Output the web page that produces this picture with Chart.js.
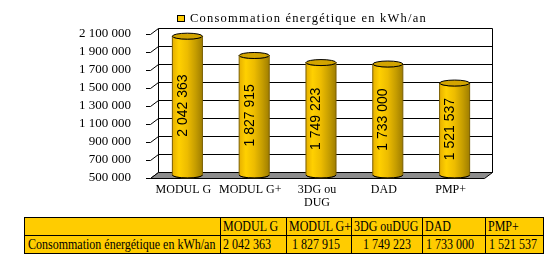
<!DOCTYPE html>
<html><head><meta charset="utf-8">
<script src="https://cdn.jsdelivr.net/npm/chart.js@4"></script>
<style>
html,body{margin:0;padding:0;background:#fff;width:550px;height:255px;overflow:hidden}
#wrap{position:absolute;left:0;top:0;width:550px;height:215px}
#tbl{position:absolute;left:24px;top:217px;width:519px;border-collapse:collapse;table-layout:fixed;font-family:"Liberation Serif","Times New Roman",serif;font-size:15px;background:#FFCC00;color:#000}
#tbl td{border:1px solid #000;padding:0 0 0 2px;height:17px;white-space:nowrap;overflow:visible;line-height:17px;vertical-align:middle}
#tbl td span{display:inline-block;transform:scaleX(0.8);transform-origin:0 50%}
#tbl tr.data td:nth-child(1){padding-left:3px}
#tbl tr.data td:nth-child(3){padding-left:5px}
#tbl tr.data td:nth-child(4){padding-left:11px}
#tbl tr.data td:nth-child(5){padding-left:3px}
#tbl tr.data td:nth-child(6){padding-left:3px}
</style></head>
<body>
<div id="wrap"><canvas id="c" width="550" height="215"></canvas></div>
<table id="tbl"></table>
<script>
// ---- data ----
const categories = ['MODUL G', 'MODUL G+', ['3DG ou', 'DUG'], 'DAD', 'PMP+'];
const values = [2042363, 1827915, 1749223, 1733000, 1521537];
const seriesLabel = 'Consommation énergétique en kWh/an';
const yMin = 500000, yMax = 2100000, yStep = 200000;

const fmt = v => String(v).replace(/\B(?=(\d{3})+(?!\d))/g, ' ');

// ---- table ----
(function(){
  const t = document.getElementById('tbl');
  const widths = [196, 66, 65, 71, 63, 58];
  const cg = document.createElement('colgroup');
  widths.forEach(w => { const c = document.createElement('col'); c.style.width = w + 'px'; cg.appendChild(c); });
  t.appendChild(cg);
  const r1 = document.createElement('tr');
  const r2 = document.createElement('tr'); r2.className = 'data';
  const cell = (row, txt) => { const td = document.createElement('td'); const s = document.createElement('span'); s.textContent = txt; td.appendChild(s); row.appendChild(td); };
  cell(r1, '');
  categories.forEach(c => cell(r1, Array.isArray(c) ? c.join('') : c));
  cell(r2, seriesLabel);
  values.forEach(v => cell(r2, fmt(v)));
  t.appendChild(r1); t.appendChild(r2);
})();

// ---- chart ----
const DX = 8, DY = -6;

const depthPlugin = {
  id: 'depth',
  beforeDatasetsDraw(chart) {
    const ctx = chart.ctx, a = chart.chartArea, ys = chart.scales.y;
    const L = Math.round(a.left), R = Math.round(a.right), T = Math.round(a.top), B = Math.round(a.bottom);
    ctx.save();
    ctx.lineWidth = 1; ctx.strokeStyle = '#000';
    ctx.fillStyle = '#fff';
    ctx.fillRect(L + DX, T + DY, R - L, B - T);
    for (let v = yMin; v <= yMax; v += yStep) {
      const y = Math.round(ys.getPixelForValue(v));
      ctx.beginPath();
      ctx.moveTo(L - 4, y + 0.5);
      ctx.lineTo(L + 0.5, y + 0.5);
      ctx.lineTo(L + DX + 0.5, y + DY + 0.5);
      ctx.lineTo(R + DX + 0.5, y + DY + 0.5);
      ctx.stroke();
    }
    ctx.beginPath();
    ctx.moveTo(L + DX + 0.5, T + DY + 0.5); ctx.lineTo(L + DX + 0.5, B + DY + 0.5);
    ctx.moveTo(R + DX + 0.5, T + DY + 0.5); ctx.lineTo(R + DX + 0.5, B + DY + 0.5);
    ctx.stroke();
    ctx.beginPath();
    ctx.moveTo(L + 0.5, B + 0.5);
    ctx.lineTo(R + 0.5, B + 0.5);
    ctx.lineTo(R + DX + 0.5, B + DY + 0.5);
    ctx.lineTo(L + DX + 0.5, B + DY + 0.5);
    ctx.closePath();
    ctx.fillStyle = '#8c8c8c';
    ctx.fill(); ctx.stroke();
    ctx.restore();
  },
  afterDatasetsDraw(chart) {
    const ctx = chart.ctx, a = chart.chartArea;
    const meta = chart.getDatasetMeta(0);
    ctx.save();
    meta.data.forEach((bar, i) => {
      const rx = bar.width / 2, ry = 3;
      const cx = bar.x + DX / 2;
      const top = bar.y + DY / 2;
      const bot = a.bottom + DY / 2;
      const g = ctx.createLinearGradient(cx - rx, 0, cx + rx, 0);
      g.addColorStop(0, '#E6B000');
      g.addColorStop(0.22, '#FFD000');
      g.addColorStop(0.5, '#EDBC00');
      g.addColorStop(0.78, '#C49C00');
      g.addColorStop(1, '#A07E00');
      ctx.beginPath();
      ctx.moveTo(cx - rx, top);
      ctx.lineTo(cx - rx, bot);
      ctx.ellipse(cx, bot, rx, ry, 0, Math.PI, 0, true);
      ctx.lineTo(cx + rx, top);
      ctx.ellipse(cx, top, rx, ry, 0, 0, Math.PI, false);
      ctx.closePath();
      ctx.fillStyle = g; ctx.fill();
      ctx.lineWidth = 1; ctx.strokeStyle = '#7a5e00'; ctx.stroke();
      ctx.beginPath();
      ctx.ellipse(cx, top, rx, ry, 0, 0, Math.PI * 2);
      ctx.fillStyle = '#D2A400'; ctx.fill();
      ctx.strokeStyle = '#000'; ctx.stroke();
      ctx.beginPath();
      ctx.ellipse(cx, bot, rx, ry, 0, 0, Math.PI, false);
      ctx.stroke();
      ctx.save();
      ctx.translate(bar.x - 0.5, (top + bot) / 2);
      ctx.rotate(-Math.PI / 2);
      ctx.font = '14px "Liberation Sans", Arial, sans-serif';
      ctx.fillStyle = '#000';
      ctx.textAlign = 'center'; ctx.textBaseline = 'middle';
      ctx.fillText(fmt(values[i]), 0, 0);
      ctx.restore();
    });
    ctx.restore();
  },
  afterDraw(chart) {
    const ctx = chart.ctx;
    ctx.save();
    ctx.fillStyle = '#FFCC00'; ctx.strokeStyle = '#000'; ctx.lineWidth = 1;
    ctx.fillRect(177.5, 15.5, 7, 6); ctx.strokeRect(177.5, 15.5, 7, 6);
    ctx.font = '12.5px "Liberation Serif", "Times New Roman", serif';
    ctx.letterSpacing = '0px';
    const w = ctx.measureText(seriesLabel).width;
    const sp = (237 - w) / seriesLabel.length;
    ctx.letterSpacing = sp.toFixed(2) + 'px';
    ctx.fillStyle = '#000'; ctx.textAlign = 'left'; ctx.textBaseline = 'alphabetic';
    ctx.fillText(seriesLabel, 190, 22);
    ctx.restore();
  }
};

new Chart(document.getElementById('c'), {
  type: 'bar',
  data: {
    labels: categories,
    datasets: [{ label: seriesLabel, data: values, backgroundColor: 'rgba(0,0,0,0)', borderWidth: 0,
      barPercentage: 0.45, categoryPercentage: 1, base: yMin }]
  },
  options: {
    responsive: false, animation: false, devicePixelRatio: 1,
    layout: { padding: { top: 34, right: 66, left: 0, bottom: 0 } },
    plugins: { legend: { display: false }, tooltip: { enabled: false } },
    scales: {
      x: {
        grid: { display: false, drawTicks: false }, border: { display: false },
        ticks: { color: '#000', padding: 5, maxRotation: 0, autoSkip: false,
          font: { family: '"Liberation Serif", "Times New Roman", serif', size: 12, lineHeight: 1.1 } },
        afterFit(s) { s.height = 37; }
      },
      y: {
        min: yMin, max: yMax,
        grid: { display: false, drawTicks: false }, border: { display: false },
        ticks: { stepSize: yStep, color: '#000', padding: 19, autoSkip: false,
          font: { family: '"Liberation Serif", "Times New Roman", serif', size: 13 },
          callback: v => fmt(v) },
        afterFit(s) { s.width = 150; }
      }
    }
  },
  plugins: [depthPlugin]
});
</script>
</body></html>
